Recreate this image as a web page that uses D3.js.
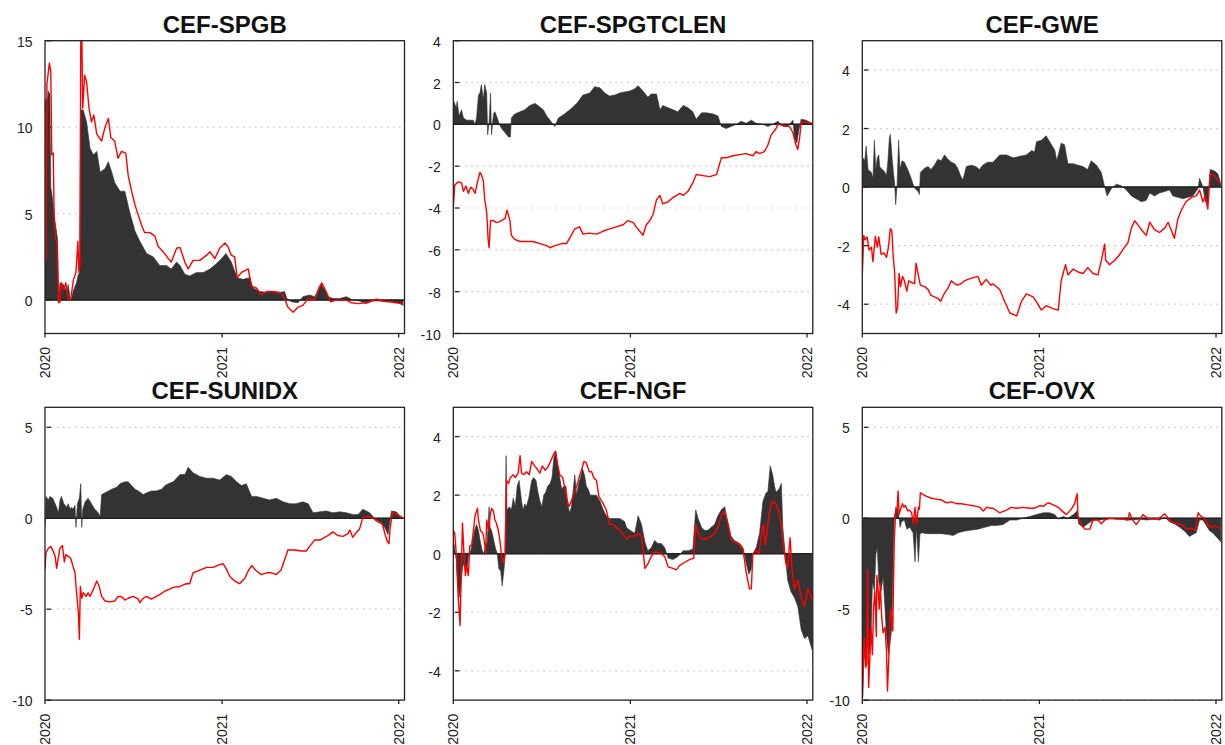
<!DOCTYPE html>
<html>
<head>
<meta charset="utf-8">
<script src="https://cdn.jsdelivr.net/npm/d3@7"></script>
<style>
  body { margin: 0; background: #fff; }
  svg { display: block; font-family: "Liberation Sans", Arial, sans-serif; }
</style>
</head>
<body>
<svg id="chart" width="1225" height="745"></svg>
<script>
// each series: [days since 2020-01-01, value]
const titles = ['CEF-SPGB', 'CEF-SPGTCLEN', 'CEF-GWE', 'CEF-SUNIDX', 'CEF-NGF', 'CEF-OVX'];
const yDomains = [[-1.93, 15], [-10, 4], [-5, 5], [-10, 6.1], [-5, 5], [-10, 6.1]];
const yTicks = [[0, 5, 10, 15], [-10, -8, -6, -4, -2, 0, 2, 4], [-4, -2, 0, 2, 4], [-10, -5, 0, 5], [-4, -2, 0, 2, 4], [-10, -5, 0, 5]];
const yearTicks = ['2020', '2021', '2022'];

const spgbBar = [[0,11.6],[5,11.6],[7,12.1],[10,11.9],[12,6.5],[15,6.0],[21,4.5],[26,3.5],[28,0.1],[31,1.0],[38,0.9],[45,0.5],[48,0.9],[52,0.1],[55,0.1],[58,0.5],[65,1.0],[69,1.5],[72,1.6],[74,11.0],[79,11.0],[86,10.3],[93,8.8],[100,8.4],[107,8.6],[114,7.4],[124,7.6],[131,8.0],[138,7.4],[144,6.8],[155,6.3],[165,6.3],[175,5.1],[186,4.0],[196,3.4],[210,2.7],[224,2.5],[237,2.0],[251,2.0],[261,1.8],[272,2.2],[279,2.0],[289,1.5],[299,1.4],[313,1.6],[327,1.6],[341,1.8],[354,2.1],[365,2.4],[374,2.7],[385,2.2],[397,1.3],[409,1.2],[423,1.3],[430,0.7],[444,0.5],[458,0.45],[471,0.5],[488,0.45],[495,0.5],[500,0.1],[509,-0.1],[523,-0.15],[533,0.2],[547,0.3],[557,0.2],[564,0.5],[571,0.9],[578,0.6],[585,0.2],[595,0.1],[609,0.1],[623,0.2],[636,0.0],[650,-0.05],[664,-0.2],[678,-0.05],[691,-0.05],[705,-0.1],[719,-0.1],[729,-0.15],[740,-0.3]];
const spgbLine = [[0,11.0],[2,2.3],[4,12.5],[9,13.7],[12,13.2],[14,8.4],[17,8.5],[19,4.7],[22,3.5],[25,3.4],[28,-0.15],[31,-0.1],[34,1.0],[39,0.6],[43,1.0],[48,0.05],[53,0.05],[59,1.2],[64,1.6],[68,3.4],[70,1.6],[72,2.0],[74,15.5],[76,15.5],[78,11.1],[82,13.0],[86,12.6],[91,11.1],[96,10.3],[101,10.7],[107,9.6],[112,9.4],[117,9.2],[124,10.0],[131,10.5],[136,9.4],[144,9.2],[151,8.2],[158,8.6],[167,8.5],[172,7.2],[179,6.3],[186,5.5],[193,4.9],[200,4.3],[206,3.9],[217,3.9],[227,3.7],[234,3.1],[244,2.8],[255,2.4],[261,2.2],[272,3.0],[279,3.05],[289,2.2],[296,1.8],[306,2.3],[320,2.3],[334,2.6],[341,2.8],[351,2.4],[361,3.0],[372,3.3],[378,3.1],[385,2.6],[392,2.5],[397,1.3],[406,1.6],[420,1.8],[427,0.8],[437,0.7],[447,0.3],[458,0.5],[471,0.5],[488,0.4],[495,0.1],[502,-0.4],[513,-0.7],[523,-0.4],[533,-0.3],[544,0.1],[557,0.0],[566,0.7],[572,1.0],[581,0.5],[590,-0.1],[602,0.0],[623,0.0],[633,-0.15],[647,-0.2],[664,-0.15],[685,0.05],[698,-0.05],[712,-0.1],[726,-0.15],[740,-0.2]];

const cleanBar = [[0,-1.0],[1,1.1],[6,0.8],[8,1.1],[12,0.4],[17,0.7],[21,0.3],[28,0.2],[34,0.2],[41,0.2],[45,0.0],[48,0.3],[52,1.4],[55,1.5],[58,1.9],[62,1.2],[65,1.9],[69,1.5],[71,-0.5],[74,0.1],[77,1.5],[79,-0.5],[83,0.5],[86,0.6],[91,0.3],[95,0.0],[100,-0.2],[107,-0.4],[114,-0.6],[118,-0.6],[120,0.3],[127,0.5],[138,0.6],[148,0.7],[158,0.9],[169,1.0],[175,0.9],[186,0.7],[193,0.4],[200,0.2],[206,0.0],[210,-0.1],[217,0.3],[227,0.45],[241,0.7],[255,1.0],[268,1.4],[282,1.5],[292,1.8],[303,1.75],[313,1.5],[323,1.35],[334,1.4],[344,1.5],[354,1.55],[365,1.6],[375,1.7],[382,1.85],[392,1.6],[402,1.3],[409,1.45],[420,1.45],[427,0.7],[433,0.9],[444,0.8],[454,0.7],[464,0.6],[475,0.9],[485,0.8],[495,0.6],[502,0.25],[513,0.55],[523,0.55],[537,0.5],[547,0.4],[554,-0.1],[564,-0.2],[574,-0.1],[585,0.0],[595,0.15],[605,0.05],[616,0.2],[626,0.05],[640,0.0],[650,-0.1],[660,0.0],[671,0.15],[681,-0.1],[691,-0.1],[702,0.2],[705,-0.6],[710,-0.9],[714,-0.3],[719,0.25],[729,0.2],[741,0.05]];
const cleanLine = [[0,-4.0],[3,-2.9],[10,-2.75],[17,-2.8],[21,-3.2],[26,-2.95],[31,-3.3],[36,-3.0],[41,-3.1],[45,-3.3],[50,-2.75],[55,-2.3],[58,-2.4],[62,-2.7],[65,-3.6],[69,-4.2],[72,-5.5],[74,-5.9],[77,-4.6],[83,-4.6],[89,-4.7],[96,-4.65],[107,-4.5],[111,-4.1],[117,-4.6],[120,-5.3],[127,-5.5],[138,-5.6],[151,-5.6],[165,-5.6],[179,-5.7],[193,-5.8],[200,-5.9],[210,-5.8],[224,-5.7],[234,-5.7],[244,-5.3],[251,-5.0],[261,-4.9],[268,-5.25],[282,-5.2],[296,-5.25],[310,-5.1],[323,-5.0],[337,-4.9],[351,-4.8],[361,-4.6],[372,-4.7],[378,-4.9],[392,-5.3],[399,-4.8],[406,-4.6],[413,-4.3],[420,-3.6],[427,-3.4],[433,-3.8],[444,-3.7],[454,-3.5],[468,-3.3],[475,-3.4],[485,-3.2],[495,-2.8],[502,-2.4],[516,-2.45],[530,-2.5],[544,-2.4],[554,-1.6],[564,-1.6],[578,-1.5],[592,-1.45],[605,-1.4],[619,-1.5],[626,-1.3],[633,-1.4],[643,-1.3],[650,-1.0],[657,-0.5],[667,-0.2],[671,0.0],[681,-0.05],[695,-0.1],[702,-0.4],[707,-0.9],[712,-1.2],[716,-0.6],[719,0.1],[729,0.1],[741,0.05]];

const gweBar = [[0,-0.75],[1,1.0],[5,0.9],[8,1.4],[12,0.6],[15,0.55],[19,0.5],[22,0.3],[25,1.6],[28,0.6],[31,1.0],[34,1.1],[36,0.7],[41,0.6],[45,0.55],[50,0.4],[53,0.9],[56,1.7],[58,1.8],[62,0.9],[65,0.4],[67,0.1],[69,-0.6],[72,0.1],[75,1.6],[78,0.6],[82,0.9],[87,0.85],[94,0.6],[101,0.3],[105,0.1],[109,-0.05],[115,-0.15],[118,-0.25],[120,0.5],[129,0.65],[136,0.7],[142,0.6],[149,0.75],[156,0.95],[163,0.9],[170,1.1],[177,0.95],[184,0.85],[191,0.8],[197,0.65],[204,0.35],[208,0.25],[215,0.7],[225,0.75],[235,0.7],[242,0.6],[249,0.75],[259,0.85],[270,0.85],[284,1.1],[298,1.1],[312,1.0],[325,1.05],[339,1.1],[350,1.25],[356,1.2],[360,1.55],[370,1.6],[380,1.75],[391,1.45],[398,1.25],[402,0.9],[411,1.5],[418,1.45],[425,0.8],[436,0.8],[446,0.75],[456,0.7],[466,0.6],[473,0.9],[484,0.75],[494,0.5],[501,0.0],[506,-0.3],[515,-0.05],[525,0.1],[535,0.05],[546,-0.1],[556,-0.3],[566,-0.4],[577,-0.5],[587,-0.45],[594,-0.2],[604,-0.3],[614,-0.2],[625,-0.15],[635,-0.1],[642,-0.3],[652,-0.35],[663,-0.4],[673,-0.35],[683,-0.3],[694,-0.05],[697,0.3],[704,0.0],[709,-0.5],[714,-0.6],[719,0.6],[728,0.55],[735,0.45],[741,0.1]];
const gweLine = [[0,-3.0],[3,-1.65],[6,-1.8],[10,-1.7],[14,-2.15],[19,-2.05],[22,-2.55],[27,-1.68],[31,-2.05],[34,-1.7],[39,-2.3],[45,-2.25],[50,-2.4],[54,-2.05],[58,-1.42],[61,-1.5],[64,-2.4],[67,-2.95],[70,-4.3],[73,-4.1],[76,-2.95],[79,-3.4],[83,-3.05],[87,-3.2],[92,-3.55],[96,-3.2],[101,-3.25],[108,-3.3],[111,-2.6],[115,-2.95],[120,-3.35],[129,-3.4],[136,-3.5],[142,-3.7],[149,-3.75],[156,-3.8],[162,-3.9],[169,-3.65],[177,-3.45],[184,-3.2],[191,-3.3],[197,-3.35],[204,-3.3],[211,-3.2],[218,-3.15],[228,-3.1],[239,-3.05],[246,-3.35],[256,-3.15],[266,-3.35],[270,-3.3],[284,-3.5],[294,-3.9],[305,-4.3],[319,-4.4],[329,-3.9],[339,-3.65],[353,-3.75],[363,-4.0],[370,-4.2],[380,-4.05],[394,-4.15],[405,-4.2],[411,-3.2],[420,-2.65],[425,-3.0],[436,-2.8],[446,-2.9],[456,-2.95],[466,-2.75],[477,-2.95],[487,-3.0],[494,-2.5],[501,-1.95],[503,-2.5],[511,-2.65],[522,-2.5],[532,-2.3],[542,-2.05],[549,-1.9],[556,-1.4],[563,-1.15],[570,-1.3],[579,-1.5],[587,-1.65],[594,-1.2],[604,-1.45],[614,-1.55],[625,-1.4],[632,-1.2],[638,-1.45],[645,-1.75],[652,-1.1],[659,-0.8],[669,-0.5],[680,-0.35],[690,-0.3],[697,-0.1],[704,-0.5],[709,-0.3],[714,-0.75],[719,0.45],[728,0.4],[735,0.2],[741,0.1]];

const sunBar = [[0,-0.4],[2,1.2],[7,1.0],[10,1.2],[16,1.1],[21,0.8],[24,0.6],[28,0.3],[31,1.0],[34,1.2],[39,0.8],[45,0.6],[48,0.8],[52,0.5],[55,0.6],[58,0.5],[62,0.7],[64,-0.5],[67,0.8],[71,1.1],[74,1.9],[76,-0.5],[78,0.5],[83,0.9],[89,1.1],[96,0.8],[103,0.5],[110,0.3],[114,0.1],[117,1.3],[124,1.4],[131,1.5],[138,1.6],[148,1.7],[155,1.9],[165,2.0],[172,2.0],[179,1.8],[186,1.6],[193,1.5],[203,1.3],[210,1.4],[220,1.5],[230,1.5],[241,1.6],[248,1.8],[255,1.9],[265,2.0],[279,2.4],[289,2.4],[296,2.8],[306,2.5],[320,2.3],[334,2.2],[347,2.2],[361,2.1],[375,2.4],[385,2.3],[396,2.0],[406,1.8],[416,1.9],[427,1.2],[437,1.2],[451,1.1],[464,1.0],[478,1.1],[492,0.9],[506,0.8],[519,0.8],[533,0.9],[544,0.8],[554,0.3],[568,0.35],[581,0.4],[595,0.3],[609,0.35],[623,0.3],[636,0.2],[647,0.2],[657,0.5],[671,0.3],[681,0.0],[691,-0.2],[702,-0.5],[709,-0.9],[712,-0.3],[716,0.4],[726,0.35],[733,0.15],[741,0.0]];
const sunLine = [[0,-2.8],[2,-1.9],[7,-1.65],[12,-1.55],[16,-1.75],[21,-2.1],[24,-2.75],[28,-2.1],[31,-1.65],[36,-1.5],[40,-2.4],[43,-2.0],[48,-2.1],[53,-2.2],[58,-2.65],[62,-3.0],[65,-4.0],[69,-5.2],[71,-6.65],[73,-3.75],[76,-4.4],[79,-4.1],[85,-4.3],[89,-4.1],[93,-4.3],[100,-3.9],[107,-3.45],[112,-3.75],[117,-4.3],[124,-4.55],[134,-4.6],[144,-4.55],[151,-4.3],[158,-4.3],[165,-4.5],[172,-4.4],[182,-4.3],[193,-4.45],[196,-4.65],[203,-4.4],[210,-4.3],[220,-4.45],[230,-4.3],[237,-4.2],[248,-4.0],[258,-3.9],[265,-3.8],[279,-3.75],[292,-3.6],[299,-3.6],[306,-3.0],[320,-2.85],[334,-2.7],[347,-2.7],[361,-2.55],[368,-2.5],[375,-2.8],[382,-3.2],[392,-3.45],[402,-3.6],[413,-3.3],[420,-2.9],[427,-2.6],[437,-2.9],[447,-3.1],[458,-3.0],[468,-3.0],[478,-3.1],[488,-2.85],[495,-2.3],[502,-1.75],[516,-1.75],[530,-1.8],[540,-1.8],[547,-1.55],[557,-1.2],[568,-1.2],[578,-1.05],[588,-0.9],[595,-0.75],[605,-0.95],[616,-1.0],[626,-0.85],[630,-0.65],[636,-1.05],[643,-0.8],[650,-0.6],[657,0.05],[667,0.1],[678,0.0],[688,-0.2],[697,-0.3],[702,-0.8],[707,-1.25],[711,-1.4],[713,-0.6],[718,0.3],[726,0.25],[733,0.1],[741,0.0]];

const ngfBar = [[0,0.4],[2,0.3],[6,-0.2],[8,-0.8],[12,-1.5],[15,-1.2],[19,-0.5],[22,-0.3],[25,-0.6],[29,-0.4],[32,0.0],[36,0.1],[40,0.4],[44,0.8],[48,1.0],[52,0.8],[56,0.4],[60,0.1],[63,0.0],[67,0.3],[70,0.4],[74,1.6],[76,0.9],[79,0.8],[83,0.5],[87,0.2],[91,0.0],[94,-0.5],[98,-0.6],[101,-1.1],[105,-0.5],[107,-0.1],[109,3.35],[111,1.5],[116,1.6],[120,1.5],[124,1.9],[128,1.6],[132,2.3],[136,2.5],[141,1.8],[144,1.5],[148,1.7],[151,1.6],[156,1.9],[162,2.5],[166,2.6],[171,2.5],[175,2.1],[179,1.8],[183,1.6],[187,2.0],[191,2.1],[195,2.3],[200,2.4],[204,2.6],[208,3.3],[212,3.5],[216,3.0],[220,2.6],[224,2.2],[228,2.3],[233,2.3],[237,1.6],[241,1.4],[244,1.6],[248,2.2],[251,2.7],[255,2.0],[259,2.4],[263,2.6],[267,2.9],[271,2.7],[275,2.3],[279,2.2],[283,2.0],[289,2.0],[296,2.0],[303,1.8],[310,1.5],[316,1.3],[323,1.2],[334,1.2],[344,1.2],[354,1.1],[358,0.9],[365,0.8],[375,0.7],[382,1.3],[389,1.0],[396,0.4],[402,0.1],[409,0.2],[416,0.45],[423,0.35],[430,0.35],[437,0.2],[444,-0.15],[454,-0.2],[464,-0.1],[475,0.1],[485,0.1],[495,0.15],[501,1.5],[506,1.2],[513,0.9],[519,0.8],[526,0.8],[533,0.9],[540,1.0],[547,1.3],[554,1.5],[561,1.6],[568,1.0],[574,0.6],[581,0.45],[592,0.35],[599,0.2],[605,-0.3],[611,-0.7],[616,-0.5],[619,0.0],[626,0.2],[633,0.7],[640,1.8],[647,2.1],[650,2.1],[655,3.0],[660,2.7],[664,2.3],[667,2.1],[673,2.2],[678,2.4],[681,0.9],[686,0.0],[691,-0.9],[698,-1.3],[705,-1.5],[712,-1.8],[719,-2.6],[726,-2.9],[733,-2.8],[740,-3.2],[742,-3.3]];
const ngfLine = [[0,0.8],[3,0.7],[7,-0.2],[10,-1.45],[14,-2.45],[17,-0.3],[19,1.05],[22,0.0],[25,-0.75],[28,-0.4],[31,-0.75],[34,0.25],[38,0.3],[41,0.7],[45,1.3],[50,1.55],[52,1.15],[56,0.8],[61,0.7],[64,0.45],[67,0.0],[69,1.15],[73,0.8],[76,1.3],[79,1.55],[83,1.45],[86,1.15],[89,1.05],[93,0.8],[96,0.5],[100,-0.1],[103,-0.3],[107,0.0],[110,2.5],[114,2.4],[118,2.6],[124,2.7],[128,2.6],[134,2.75],[138,3.35],[141,2.75],[146,2.7],[151,2.8],[157,2.7],[162,3.15],[168,3.0],[173,2.9],[179,2.75],[184,3.0],[190,2.85],[195,2.95],[201,3.15],[206,3.35],[211,3.5],[215,3.1],[220,2.7],[226,2.6],[230,2.3],[235,1.85],[239,1.6],[244,1.8],[249,2.05],[255,2.3],[260,2.6],[265,2.85],[270,3.15],[275,3.1],[281,2.8],[286,2.8],[290,2.6],[296,2.5],[301,1.95],[310,1.7],[316,1.5],[323,1.0],[330,1.0],[337,0.9],[344,0.8],[351,0.65],[358,0.5],[365,0.6],[375,0.6],[382,0.7],[389,0.6],[396,-0.5],[402,-0.35],[409,-0.1],[416,0.05],[423,0.05],[430,0.0],[437,-0.1],[444,-0.45],[454,-0.5],[461,-0.55],[468,-0.4],[478,-0.3],[488,-0.2],[497,-0.15],[501,1.0],[506,0.7],[513,0.5],[523,0.5],[533,0.6],[540,0.7],[547,0.9],[554,1.3],[561,1.45],[568,1.0],[574,0.5],[581,0.4],[592,0.3],[599,0.1],[605,-0.6],[612,-1.2],[616,-1.2],[619,0.0],[626,0.1],[632,0.0],[636,0.6],[641,1.0],[645,0.3],[650,1.0],[654,1.5],[660,1.8],[667,1.7],[674,1.4],[681,0.5],[687,-0.3],[691,-0.5],[696,0.55],[700,-0.5],[705,-1.2],[712,-0.9],[719,-1.5],[726,-1.8],[733,-1.2],[740,-1.5],[742,-1.6]];

const ovxBar = [[0,-9.0],[1,-9.85],[4,-6.5],[7,-8.0],[11,-6.0],[14,-7.5],[18,-6.5],[21,-3.5],[25,-4.0],[28,-2.0],[31,-1.6],[34,-3.5],[39,-4.0],[43,-3.2],[47,-5.0],[50,-6.5],[54,-7.5],[57,-7.0],[61,-6.0],[64,-2.0],[66,0.0],[69,0.6],[73,0.5],[76,0.0],[78,-0.5],[81,-0.2],[87,-0.1],[92,-0.6],[98,-0.5],[105,-0.8],[109,-2.4],[112,-0.5],[116,-2.4],[119,-0.9],[122,-0.8],[136,-0.85],[150,-0.85],[164,-0.85],[178,-0.9],[188,-0.95],[198,-0.8],[212,-0.7],[226,-0.65],[239,-0.6],[253,-0.5],[267,-0.4],[277,-0.4],[291,-0.35],[305,-0.1],[319,-0.1],[332,0.0],[346,0.1],[360,0.2],[374,0.3],[387,0.3],[398,0.2],[405,-0.05],[415,0.1],[425,0.0],[436,0.2],[444,0.4],[447,-0.3],[456,-0.5],[466,-0.3],[477,-0.1],[491,-0.1],[504,-0.05],[518,0.0],[532,-0.05],[546,-0.1],[559,-0.1],[573,-0.05],[587,-0.1],[601,-0.05],[614,-0.1],[625,0.05],[635,-0.2],[645,-0.3],[656,-0.5],[666,-0.7],[676,-1.0],[683,-0.9],[690,-0.8],[697,-0.1],[704,-0.1],[711,-0.4],[718,-0.7],[724,-0.8],[731,-1.0],[738,-1.2],[741,-1.3]];
const ovxLine = [[0,-9.85],[2,-8.4],[4,-6.6],[7,-8.2],[9,-8.0],[11,-2.8],[13,-9.3],[16,-7.5],[18,-6.0],[21,-7.5],[23,-5.0],[26,-4.0],[29,-6.5],[30,-3.15],[33,-4.0],[35,-5.0],[37,-3.6],[40,-5.4],[43,-6.3],[47,-6.0],[50,-7.3],[52,-9.5],[55,-7.5],[58,-5.0],[61,-5.5],[63,-6.2],[66,-1.2],[69,0.3],[72,0.5],[74,1.5],[76,0.2],[79,0.5],[83,0.8],[86,0.6],[89,0.7],[94,0.4],[97,0.45],[102,0.3],[105,-0.3],[109,0.6],[112,-0.3],[116,0.6],[118,0.5],[120,1.4],[126,1.3],[133,1.2],[143,1.1],[153,1.05],[164,1.0],[174,0.85],[184,0.9],[195,0.8],[205,0.8],[215,0.75],[226,0.7],[236,0.65],[243,0.6],[250,0.4],[257,0.6],[267,0.55],[270,0.55],[284,0.3],[298,0.45],[308,0.6],[319,0.55],[332,0.6],[346,0.55],[356,0.55],[367,0.7],[374,0.65],[384,0.85],[394,0.75],[405,0.6],[415,0.35],[422,0.2],[432,0.5],[439,0.8],[444,1.35],[446,0.1],[453,-0.35],[460,-0.6],[470,-0.6],[477,-0.1],[487,-0.1],[494,-0.3],[501,-0.1],[511,0.0],[525,-0.05],[539,-0.05],[549,-0.1],[552,0.3],[559,-0.1],[566,-0.35],[573,-0.1],[580,0.2],[590,0.0],[601,-0.05],[614,0.0],[625,0.25],[632,0.0],[635,-0.1],[642,-0.25],[652,-0.3],[663,-0.4],[669,-0.6],[680,-0.55],[689,-0.7],[694,0.3],[700,0.1],[707,0.0],[714,-0.35],[721,-0.5],[728,-0.4],[735,-0.5],[741,-0.55]];

const barSeries = [spgbBar, cleanBar, gweBar, sunBar, ngfBar, ovxBar];
const lineSeries = [spgbLine, cleanLine, gweLine, sunLine, ngfLine, ovxLine];

// layout of the 2x3 grid
const colLeft = [45, 453.3, 862.3];
const rowTop = [40.7, 407.3];
const plotW = 359.5;
const plotH = 292.8;

const svg = d3.select('#chart');
const startDate = new Date(2020, 0, 1);
const endDate = new Date(2022, 0, 13);
const toDate = d => new Date(2020, 0, 1 + d);

titles.forEach((title, i) => {
  const left = colLeft[i % 3];
  const top = rowTop[Math.floor(i / 3)];
  const bottom = top + plotH;

  const x = d3.scaleTime().domain([startDate, endDate]).range([left, left + plotW]);
  const y = d3.scaleLinear().domain(yDomains[i]).range([bottom, top]);

  const g = svg.append('g');

  g.append('clipPath').attr('id', 'clip' + i)
    .append('rect')
    .attr('x', left).attr('y', top)
    .attr('width', plotW).attr('height', plotH);

  // dotted grid + small inner ticks
  g.selectAll('.grid')
    .data(yTicks[i].filter(t => t !== 0))
    .enter().append('line')
    .attr('x1', left + 6).attr('x2', left + plotW)
    .attr('y1', d => y(d)).attr('y2', d => y(d))
    .attr('stroke', '#c4c4c4')
    .attr('stroke-width', 1.2)
    .attr('stroke-dasharray', '1.5,4.5');

  g.selectAll('.ytick')
    .data(yTicks[i])
    .enter().append('line')
    .attr('x1', left + 1.5).attr('x2', left + 6)
    .attr('y1', d => y(d)).attr('y2', d => y(d))
    .attr('stroke', '#222')
    .attr('stroke-width', 1.3);

  const plot = g.append('g').attr('clip-path', `url(#clip${i})`);

  const area = d3.area()
    .x(d => x(toDate(d[0])))
    .y0(y(0))
    .y1(d => y(d[1]));

  plot.append('path')
    .datum(barSeries[i])
    .attr('d', area)
    .attr('fill', '#333333')
    .attr('stroke', '#333333')
    .attr('stroke-width', 0.6);

  // zero line
  plot.append('line')
    .attr('x1', left).attr('x2', left + plotW)
    .attr('y1', y(0)).attr('y2', y(0))
    .attr('stroke', '#222')
    .attr('stroke-width', 1.5);

  const line = d3.line()
    .x(d => x(toDate(d[0])))
    .y(d => y(d[1]));

  plot.append('path')
    .datum(lineSeries[i])
    .attr('d', line)
    .attr('fill', 'none')
    .attr('stroke', '#ff0000')
    .attr('stroke-width', 1.4)
    .attr('stroke-linejoin', 'round');

  // frame
  g.append('rect')
    .attr('x', left).attr('y', top)
    .attr('width', plotW).attr('height', plotH)
    .attr('fill', 'none')
    .attr('stroke', '#222')
    .attr('stroke-width', 1.3);

  // y labels
  g.selectAll('.ylab')
    .data(yTicks[i])
    .enter().append('text')
    .attr('x', left - 12.5)
    .attr('y', d => y(d) + 1)
    .attr('text-anchor', 'end')
    .attr('dominant-baseline', 'central')
    .attr('font-size', 14)
    .attr('fill', '#222')
    .text(d => String(d));

  // x ticks + rotated year labels
  yearTicks.forEach(yr => {
    const xp = x(new Date(+yr, 0, 1));
    g.append('line')
      .attr('x1', xp).attr('x2', xp)
      .attr('y1', bottom).attr('y2', bottom + 4)
      .attr('stroke', '#222')
      .attr('stroke-width', 1.3);
    g.append('text')
      .attr('transform', `translate(${xp},${bottom + 13.5}) rotate(-90)`)
      .attr('text-anchor', 'end')
      .attr('dominant-baseline', 'central')
      .attr('font-size', 14)
      .attr('fill', '#222')
      .text(yr);
  });

  // title
  g.append('text')
    .attr('x', left + plotW / 2)
    .attr('y', top - 8)
    .attr('text-anchor', 'middle')
    .attr('font-size', 24)
    .attr('font-weight', 'bold')
    .attr('fill', '#111')
    .text(title);
});
</script>
</body>
</html>
